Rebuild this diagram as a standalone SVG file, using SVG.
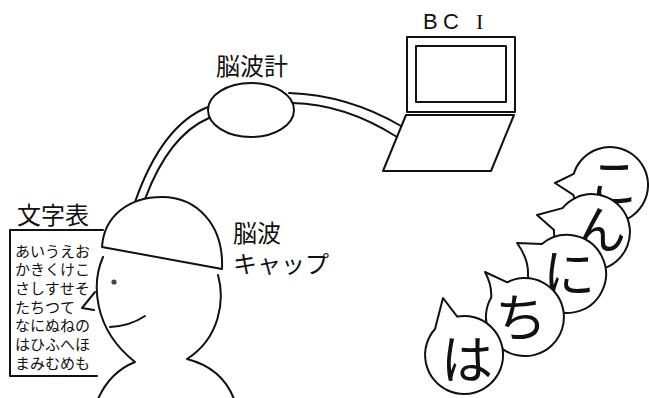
<svg xmlns="http://www.w3.org/2000/svg" width="649" height="398" viewBox="0 0 649 398">
  <style>
    .ln { fill: none; stroke: #111; stroke-width: 2; stroke-linecap: round; stroke-linejoin: round; }
    .sh { fill: #fff; stroke: #111; stroke-width: 2; stroke-linejoin: round; }
    .jp { font-family: "Noto Sans CJK JP", "Noto Sans", sans-serif; fill: #111; dominant-baseline: central; }
    .lbl { font-size: 24px; }
    .grid { font-size: 15px; }
    .big { font-size: 52px; text-anchor: middle; }
  </style>
  <rect width="649" height="398" fill="#fff"/>

  <!-- cables: head to EEG unit, EEG unit to laptop -->
  <g id="connectors">
    <path class="ln" d="M208,107 Q162,125 135,202"/>
    <path class="ln" d="M209,118 Q169,135 145,199"/>
    <path class="ln" d="M289,93 Q348,95 401,126"/>
    <path class="ln" d="M292,103 Q345,104 397,137"/>
  </g>

  <!-- EEG unit -->
  <g id="eeg">
    <ellipse class="sh" cx="251" cy="110" rx="43" ry="27"/>
    <text class="jp lbl" x="216" y="64">脳波計</text>
  </g>

  <!-- laptop -->
  <g id="bci">
    <rect class="ln" x="407" y="37" width="108" height="75"/>
    <rect class="ln" x="416" y="46" width="90" height="56"/>
    <path class="ln" d="M406,115 L514,115 L491,171 L383,171 Z"/>
    <text y="29" font-size="22" fill="#111"><tspan x="423" font-family="Liberation Sans, sans-serif">B</tspan><tspan x="443" font-family="Liberation Sans, sans-serif">C</tspan><tspan x="476" font-family="Liberation Serif, serif">I</tspan></text>
  </g>

  <!-- character chart -->
  <g id="chart">
    <text class="jp lbl" x="17" y="213">文字表</text>
    <path class="ln" d="M103,230 L10,230 L10,376 L97,376"/>
    <g class="jp grid">
      <text x="15" y="250">あいうえお</text>
      <text x="15" y="268.7">かきくけこ</text>
      <text x="15" y="287.4">さしすせそ</text>
      <text x="15" y="306.1">たちつて</text>
      <text x="15" y="324.8">なにぬねの</text>
      <text x="15" y="343.5">はひふへほ</text>
      <text x="15" y="362.2">まみむめも</text>
    </g>
    <path class="ln" d="M95,292 L82,308 L94,310"/>
  </g>

  <!-- user wearing the electrode cap -->
  <g id="user">
    <path class="sh" d="M102,247 C104,215 130,197 162,197 C196,197 224,224 222,269 Z"/>
    <path class="ln" d="M103,257 C92,282 92,328 135,362 Q110,372 98,399"/>
    <path class="ln" d="M218,275 C225,300 220,338 187,359 Q222,368 234,399"/>
    <circle cx="114" cy="282" r="2.6" fill="#444"/>
    <path class="ln" d="M110,327 Q130,326 145,316"/>
  </g>

  <!-- electrode cap label -->
  <g id="cap-label">
    <text class="jp lbl" x="233" y="231" font-size="23">脳波</text>
    <text class="jp lbl" x="233" y="262" font-size="23">キャップ</text>
  </g>

  <!-- speech bubbles, back to front -->
  <g id="bubble-ko">
    <path class="sh" d="M573.7,173.9 L555,183 L573.3,194.8 A38,38 0 1 0 573.7,173.9 Z"/>
    <text class="jp big" x="614" y="179">こ</text>
  </g>
  <g id="bubble-n">
    <path class="sh" d="M562.5,208.1 L537,215 L554,230 A38,38 0 1 0 562.5,208.1 Z"/>
    <text class="jp big" x="600" y="226">ん</text>
  </g>
  <g id="bubble-ni">
    <path class="sh" d="M541.9,244.1 L517,243 Q528,258 528,272.6 A39,39 0 1 0 541.9,244.1 Z"/>
    <text class="jp big" x="569" y="270">に</text>
  </g>
  <g id="bubble-chi">
    <path class="sh" d="M507.3,282.3 L485,272 Q492,285 491.2,297.5 A39,39 0 1 0 507.3,282.3 Z"/>
    <text class="jp big" x="521" y="314">ち</text>
  </g>
  <g id="bubble-ha">
    <path class="sh" d="M457.2,316.6 L443,298 L435,329 A39,39 0 1 0 457.2,316.6 Z"/>
    <text class="jp big" x="467" y="356">は</text>
  </g>
</svg>
